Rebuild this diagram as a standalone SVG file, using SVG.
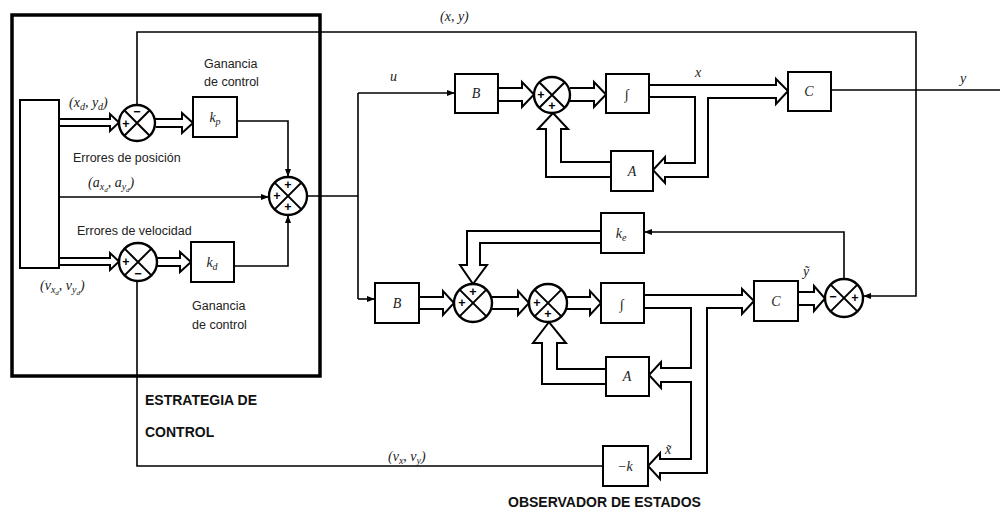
<svg xmlns="http://www.w3.org/2000/svg" width="1000" height="517" viewBox="0 0 1000 517">
<defs>
<style>
.box{fill:#fff;stroke:#000;stroke-width:2}
.ln{fill:none;stroke:#000;stroke-width:1.6}
.wa{fill:none;stroke:#000;stroke-width:2;stroke-linejoin:miter}
.sum{fill:#fff;stroke:#000;stroke-width:2.4}
.x{stroke:#000;stroke-width:2}
.m{font-family:"Liberation Serif",serif;font-style:italic;font-size:14px;fill:#222}
.ms{font-size:10px}
.s{font-family:"Liberation Sans",Arial,sans-serif;font-size:12.5px;fill:#222}
.b{font-family:"Liberation Sans",Arial,sans-serif;font-size:14px;font-weight:bold;fill:#111}
.sg{font-family:"Liberation Sans",Arial,sans-serif;font-size:12.5px;font-weight:bold;fill:#000;text-anchor:middle;dominant-baseline:central}
</style>
<marker id="ar" markerWidth="8" markerHeight="6" refX="8" refY="3" orient="auto" markerUnits="userSpaceOnUse"><path d="M0,0 L8,3 L0,6 z" fill="#000"/></marker>
</defs>
<rect width="1000" height="517" fill="#fff"/>

<g id="estrategia">
<rect x="12" y="15" width="308" height="361" fill="none" stroke="#000" stroke-width="3.5"/>
<text class="b" x="145" y="405">ESTRATEGIA DE</text>
<text class="b" x="145" y="437">CONTROL</text>
</g>
<g id="observador"><text class="b" x="508" y="507">OBSERVADOR DE ESTADOS</text></g>

<g id="connectors">
<path class="wa" d="M59 119 H110 V114 L119 122.5 L110 131 V126 H59"/>
<path class="wa" d="M155 119 H182 V113 L193 123 L182 133 V127 H156"/>
<path class="wa" d="M59 258 H110 V253 L119 261.5 L110 270 V265 H59"/>
<path class="wa" d="M157 258 H180 V252 L191 262 L180 272 V266 H157"/>
<path class="ln" d="M237 121 H288 V177" marker-end="url(#ar)"/>
<path class="ln" d="M234 266 H288 V215" marker-end="url(#ar)"/>
<path class="ln" d="M59 197 H269" marker-end="url(#ar)"/>
<path class="ln" d="M307 196 H358"/>
<path class="ln" d="M358 93 V299"/>
<path class="ln" d="M358 93 H455" marker-end="url(#ar)"/>
<path class="ln" d="M358 299 H375" marker-end="url(#ar)"/>
<path class="ln" d="M137 105 V32 H916 V296 H863" marker-end="url(#ar)"/>
<path class="wa" d="M498 88 H522 V82 L534 94.5 L522 107 V101 H498"/>
<path class="wa" d="M570 88 H594 V82 L606 94.5 L594 107 V101 H570"/>
<path class="wa" d="M649 85 H776 V79 L788 91 L776 104 V98 H708 V177 H665 V183 L653 170 L665 157 V163 H695 V97 H649"/>
<path class="wa" d="M611 162 H561 V129 H568 L553 113 L538 129 H546 V177 H611"/>
<path class="ln" d="M831 90 H1000"/>
<path class="wa" d="M419 297 H443 V291 L454 303 L443 315 V309 H419"/>
<path class="wa" d="M492 297 H518 V291 L529 303 L518 315 V309 H492"/>
<path class="wa" d="M567 297 H590 V291 L601 303 L590 315 V309 H567"/>
<path class="wa" d="M644 295 H742 V289 L754 301 L742 314 V308 H707 V473 H660 V479 L648 466 L660 453 V459 H691 V382 H661 V388 L649 375 L661 362 V368 H691 V308 H644"/>
<path class="wa" d="M606 369 H557 V343 H566 L549 322 L533 343 H542 V384 H606"/>
<path class="wa" d="M601 231 H467 V265 H460 L473 284 L487 265 H480 V243 H601"/>
<path class="ln" d="M844 279 V232 H644" marker-end="url(#ar)"/>
<path class="wa" d="M798 292 H814 V286 L825 298.5 L814 311 V305 H798"/>
<path class="ln" d="M603 466 H137 V281"/>
</g>

<g id="ref"><rect class="box" x="20" y="100" width="39" height="168"/></g>

<g id="sum1"><circle class="sum" cx="137" cy="123" r="18"/><path class="x" d="M124.3 110.3 L149.7 135.7 M149.7 110.3 L124.3 135.7"/><text class="sg" x="137" y="112">−</text><text class="sg" x="126" y="124">+</text></g>
<g id="sumv"><circle class="sum" cx="138" cy="262" r="19"/><path class="x" d="M124.6 248.6 L151.4 275.4 M151.4 248.6 L124.6 275.4"/><text class="sg" x="126" y="262">+</text><text class="sg" x="138" y="274">−</text></g>
<g id="sum3"><circle class="sum" cx="288" cy="196" r="19"/><path class="x" d="M274.6 182.6 L301.4 209.4 M301.4 182.6 L274.6 209.4"/><text class="sg" x="288" y="185">+</text><text class="sg" x="277" y="196">+</text><text class="sg" x="288" y="207">+</text></g>
<g id="sumtop"><circle class="sum" cx="552" cy="95" r="18"/><path class="x" d="M539.3 82.3 L564.7 107.7 M564.7 82.3 L539.3 107.7"/><text class="sg" x="541" y="95">+</text><text class="sg" x="552" y="106">+</text></g>
<g id="sum4"><circle class="sum" cx="473" cy="303" r="19"/><path class="x" d="M459.6 289.6 L486.4 316.4 M486.4 289.6 L459.6 316.4"/><text class="sg" x="473" y="292">+</text><text class="sg" x="462" y="303">+</text></g>
<g id="sum5"><circle class="sum" cx="548" cy="303" r="19"/><path class="x" d="M534.6 289.6 L561.4 316.4 M561.4 289.6 L534.6 316.4"/><text class="sg" x="537" y="303">+</text><text class="sg" x="548" y="314">+</text></g>
<g id="sumr"><circle class="sum" cx="844" cy="298" r="19"/><path class="x" d="M830.6 284.6 L857.4 311.4 M857.4 284.6 L830.6 311.4"/><text class="sg" x="833" y="297">−</text><text class="sg" x="855" y="298">+</text></g>

<g id="kp"><rect class="box" x="193" y="97" width="44" height="40"/><text class="m" x="215" y="122" text-anchor="middle" font-size="16">k<tspan class="ms" dy="3">p</tspan></text></g>
<g id="kd"><rect class="box" x="191" y="242" width="43" height="40"/><text class="m" x="212" y="267" text-anchor="middle" font-size="16">k<tspan class="ms" dy="3">d</tspan></text></g>
<g id="B1"><rect class="box" x="455" y="74" width="43" height="39"/><text class="m" x="476" y="98" text-anchor="middle">B</text></g>
<g id="I1"><rect class="box" x="606" y="74" width="43" height="39"/><text class="m" x="627" y="99" text-anchor="middle">∫</text></g>
<g id="A1"><rect class="box" x="611" y="151" width="42" height="40"/><text class="m" x="632" y="176" text-anchor="middle">A</text></g>
<g id="C1"><rect class="box" x="788" y="72" width="43" height="39"/><text class="m" x="809" y="96" text-anchor="middle">C</text></g>
<g id="B2"><rect class="box" x="375" y="283" width="44" height="40"/><text class="m" x="397" y="308" text-anchor="middle">B</text></g>
<g id="I2"><rect class="box" x="601" y="283" width="43" height="40"/><text class="m" x="622" y="309" text-anchor="middle">∫</text></g>
<g id="ke"><rect class="box" x="601" y="213" width="43" height="40"/><text class="m" x="621" y="238" text-anchor="middle">k<tspan class="ms" dy="3">e</tspan></text></g>
<g id="C2"><rect class="box" x="754" y="281" width="44" height="40"/><text class="m" x="776" y="306" text-anchor="middle">C</text></g>
<g id="A2"><rect class="box" x="606" y="357" width="43" height="39"/><text class="m" x="627" y="381" text-anchor="middle">A</text></g>
<g id="K"><rect class="box" x="603" y="446" width="45" height="40"/><text class="m" x="625" y="471" text-anchor="middle">−k</text></g>

<g id="labels">
<text class="s" x="204" y="68">Ganancia</text>
<text class="s" x="204" y="86">de control</text>
<text class="s" x="73" y="162">Errores de posición</text>
<text class="s" x="77" y="235">Errores de velocidad</text>
<text class="s" x="192" y="310">Ganancia</text>
<text class="s" x="192" y="329">de control</text>
<text class="m" x="440" y="21" font-size="12">(x, y)</text>
<text class="m" x="390" y="81">u</text>
<text class="m" x="695" y="77">x</text>
<text class="m" x="960" y="83">y</text>
<text class="m" x="803" y="276">ỹ</text>
<text class="m" x="665" y="454">x̃</text>
<text class="m" x="69" y="107" font-size="13">(x<tspan class="ms" dy="3">d</tspan><tspan dy="-3">, y</tspan><tspan class="ms" dy="3">d</tspan><tspan dy="-3">)</tspan></text>
<text class="m" x="88" y="187" font-size="13">(a<tspan class="ms" dy="3">x</tspan><tspan font-size="7" dy="2">d</tspan><tspan dy="-5">, a</tspan><tspan class="ms" dy="3">y</tspan><tspan font-size="7" dy="2">d</tspan><tspan dy="-5">)</tspan></text>
<text class="m" x="40" y="290" font-size="13">(v<tspan class="ms" dy="3">x</tspan><tspan font-size="7" dy="2">d</tspan><tspan dy="-5">, v</tspan><tspan class="ms" dy="3">y</tspan><tspan font-size="7" dy="2">d</tspan><tspan dy="-5">)</tspan></text>
<text class="m" x="388" y="461" font-size="12">(v<tspan class="ms" dy="3">x</tspan><tspan dy="-3">, v</tspan><tspan class="ms" dy="3">y</tspan><tspan dy="-3">)</tspan></text>
</g>
</svg>
